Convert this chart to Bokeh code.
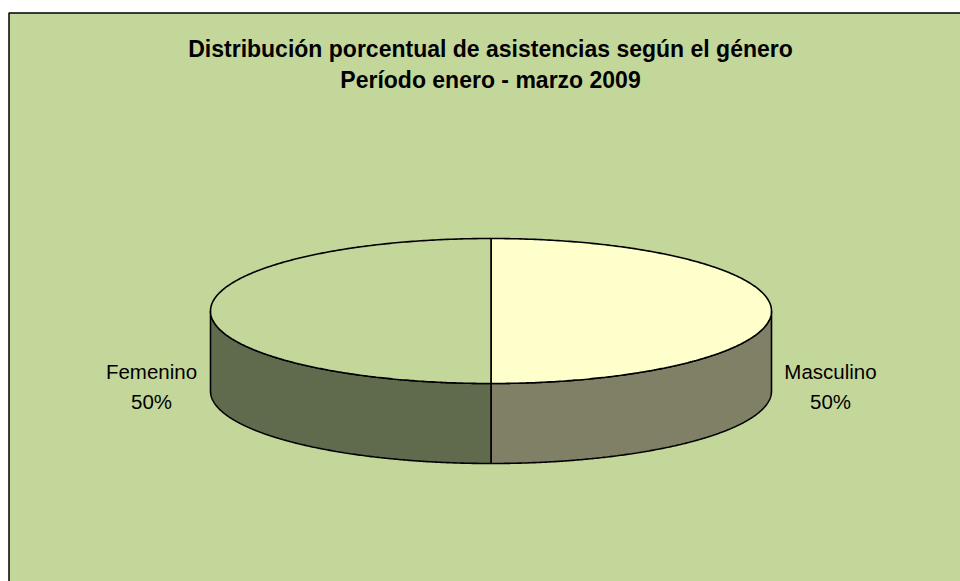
import numpy as np
from bokeh.plotting import figure
from bokeh.models import Range1d
from bokeh.core.properties import value
from bokeh.embed import file_html
from bokeh.resources import INLINE

# ---- data ----
categories = ["Masculino", "Femenino"]
values = [50, 50]
percent_labels = ["50%", "50%"]
title_lines = ["Distribución porcentual de asistencias según el género",
               "Período enero - marzo 2009"]

# ---- styles ----
top_colors = ["#FFFFCC", "#C4D79B"]
side_colors = ["#808067", "#606B4D"]
BG = "#C4D79B"
FONT = "Liberation Sans"

# ---- layout (screen pixel coordinates) ----
W, H = 960, 581
cx, cy = 490.5, 310.5
rx, ry = 280.5, 72.5
depth = 80.0

p = figure(width=W, height=H, x_range=Range1d(0, W), y_range=Range1d(H, 0),
           output_backend="svg", toolbar_location=None, min_border=0)
p.axis.visible = False
p.xgrid.visible = False
p.ygrid.visible = False
p.outline_line_color = None
p.background_fill_color = "white"
p.border_fill_color = "white"

# chart area
p.quad(left=[8.5], right=[1010], top=[12.5], bottom=[640], fill_color=BG,
       line_color="black", line_width=1.5)

def pt(theta_deg, dy=0.0):
    t = np.radians(theta_deg)
    return cx + rx * np.sin(t), cy - ry * np.cos(t) + dy

total = float(sum(values))
starts, ends = [], []
acc = 0.0
for v in values:
    starts.append(acc / total * 360.0)
    acc += v
    ends.append(acc / total * 360.0)

# sides (front visible part: 90..270 deg clockwise from top)
side_xs, side_ys, side_c = [], [], []
for a0, a1, c in zip(starts, ends, side_colors):
    lo, hi = max(a0, 90.0), min(a1, 270.0)
    if hi <= lo:
        continue
    th = np.linspace(lo, hi, 240)
    x_top, y_top = pt(th)
    x_bot, y_bot = pt(th[::-1], depth)
    side_xs.append(list(np.concatenate([x_top, x_bot])))
    side_ys.append(list(np.concatenate([y_top, y_bot])))
    side_c.append(c)
p.patches(side_xs, side_ys, fill_color=side_c, line_color="black", line_width=1.6)

# tops
top_xs, top_ys = [], []
for a0, a1 in zip(starts, ends):
    th = np.linspace(a0, a1, 300)
    x, y = pt(th)
    top_xs.append([cx] + list(x))
    top_ys.append([cy] + list(y))
p.patches(top_xs, top_ys, fill_color=top_colors, line_color="black", line_width=1.6)

# labels
lab_x, lab_y1, lab_y2 = [], [], []
for a0, a1 in zip(starts, ends):
    mid = np.radians((a0 + a1) / 2.0)
    side = np.sign(np.sin(mid))
    lab_x.append(cx + side * (rx + 59))
    lab_y1.append(371)
    lab_y2.append(401)
p.text(x=lab_x, y=lab_y1, text=categories, text_align="center", text_baseline="middle",
       text_font=value(FONT), text_font_size="20.5px", text_color="black")
p.text(x=lab_x, y=lab_y2, text=percent_labels, text_align="center", text_baseline="middle",
       text_font=value(FONT), text_font_size="20.5px", text_color="black")

# title
p.text(x=[490, 490], y=[48, 79], text=title_lines, text_align="center",
       text_baseline="middle", text_font=value(FONT), text_font_size="23px",
       text_font_style="bold", text_color="black")

open("out.html", "w").write(file_html(p, INLINE))
